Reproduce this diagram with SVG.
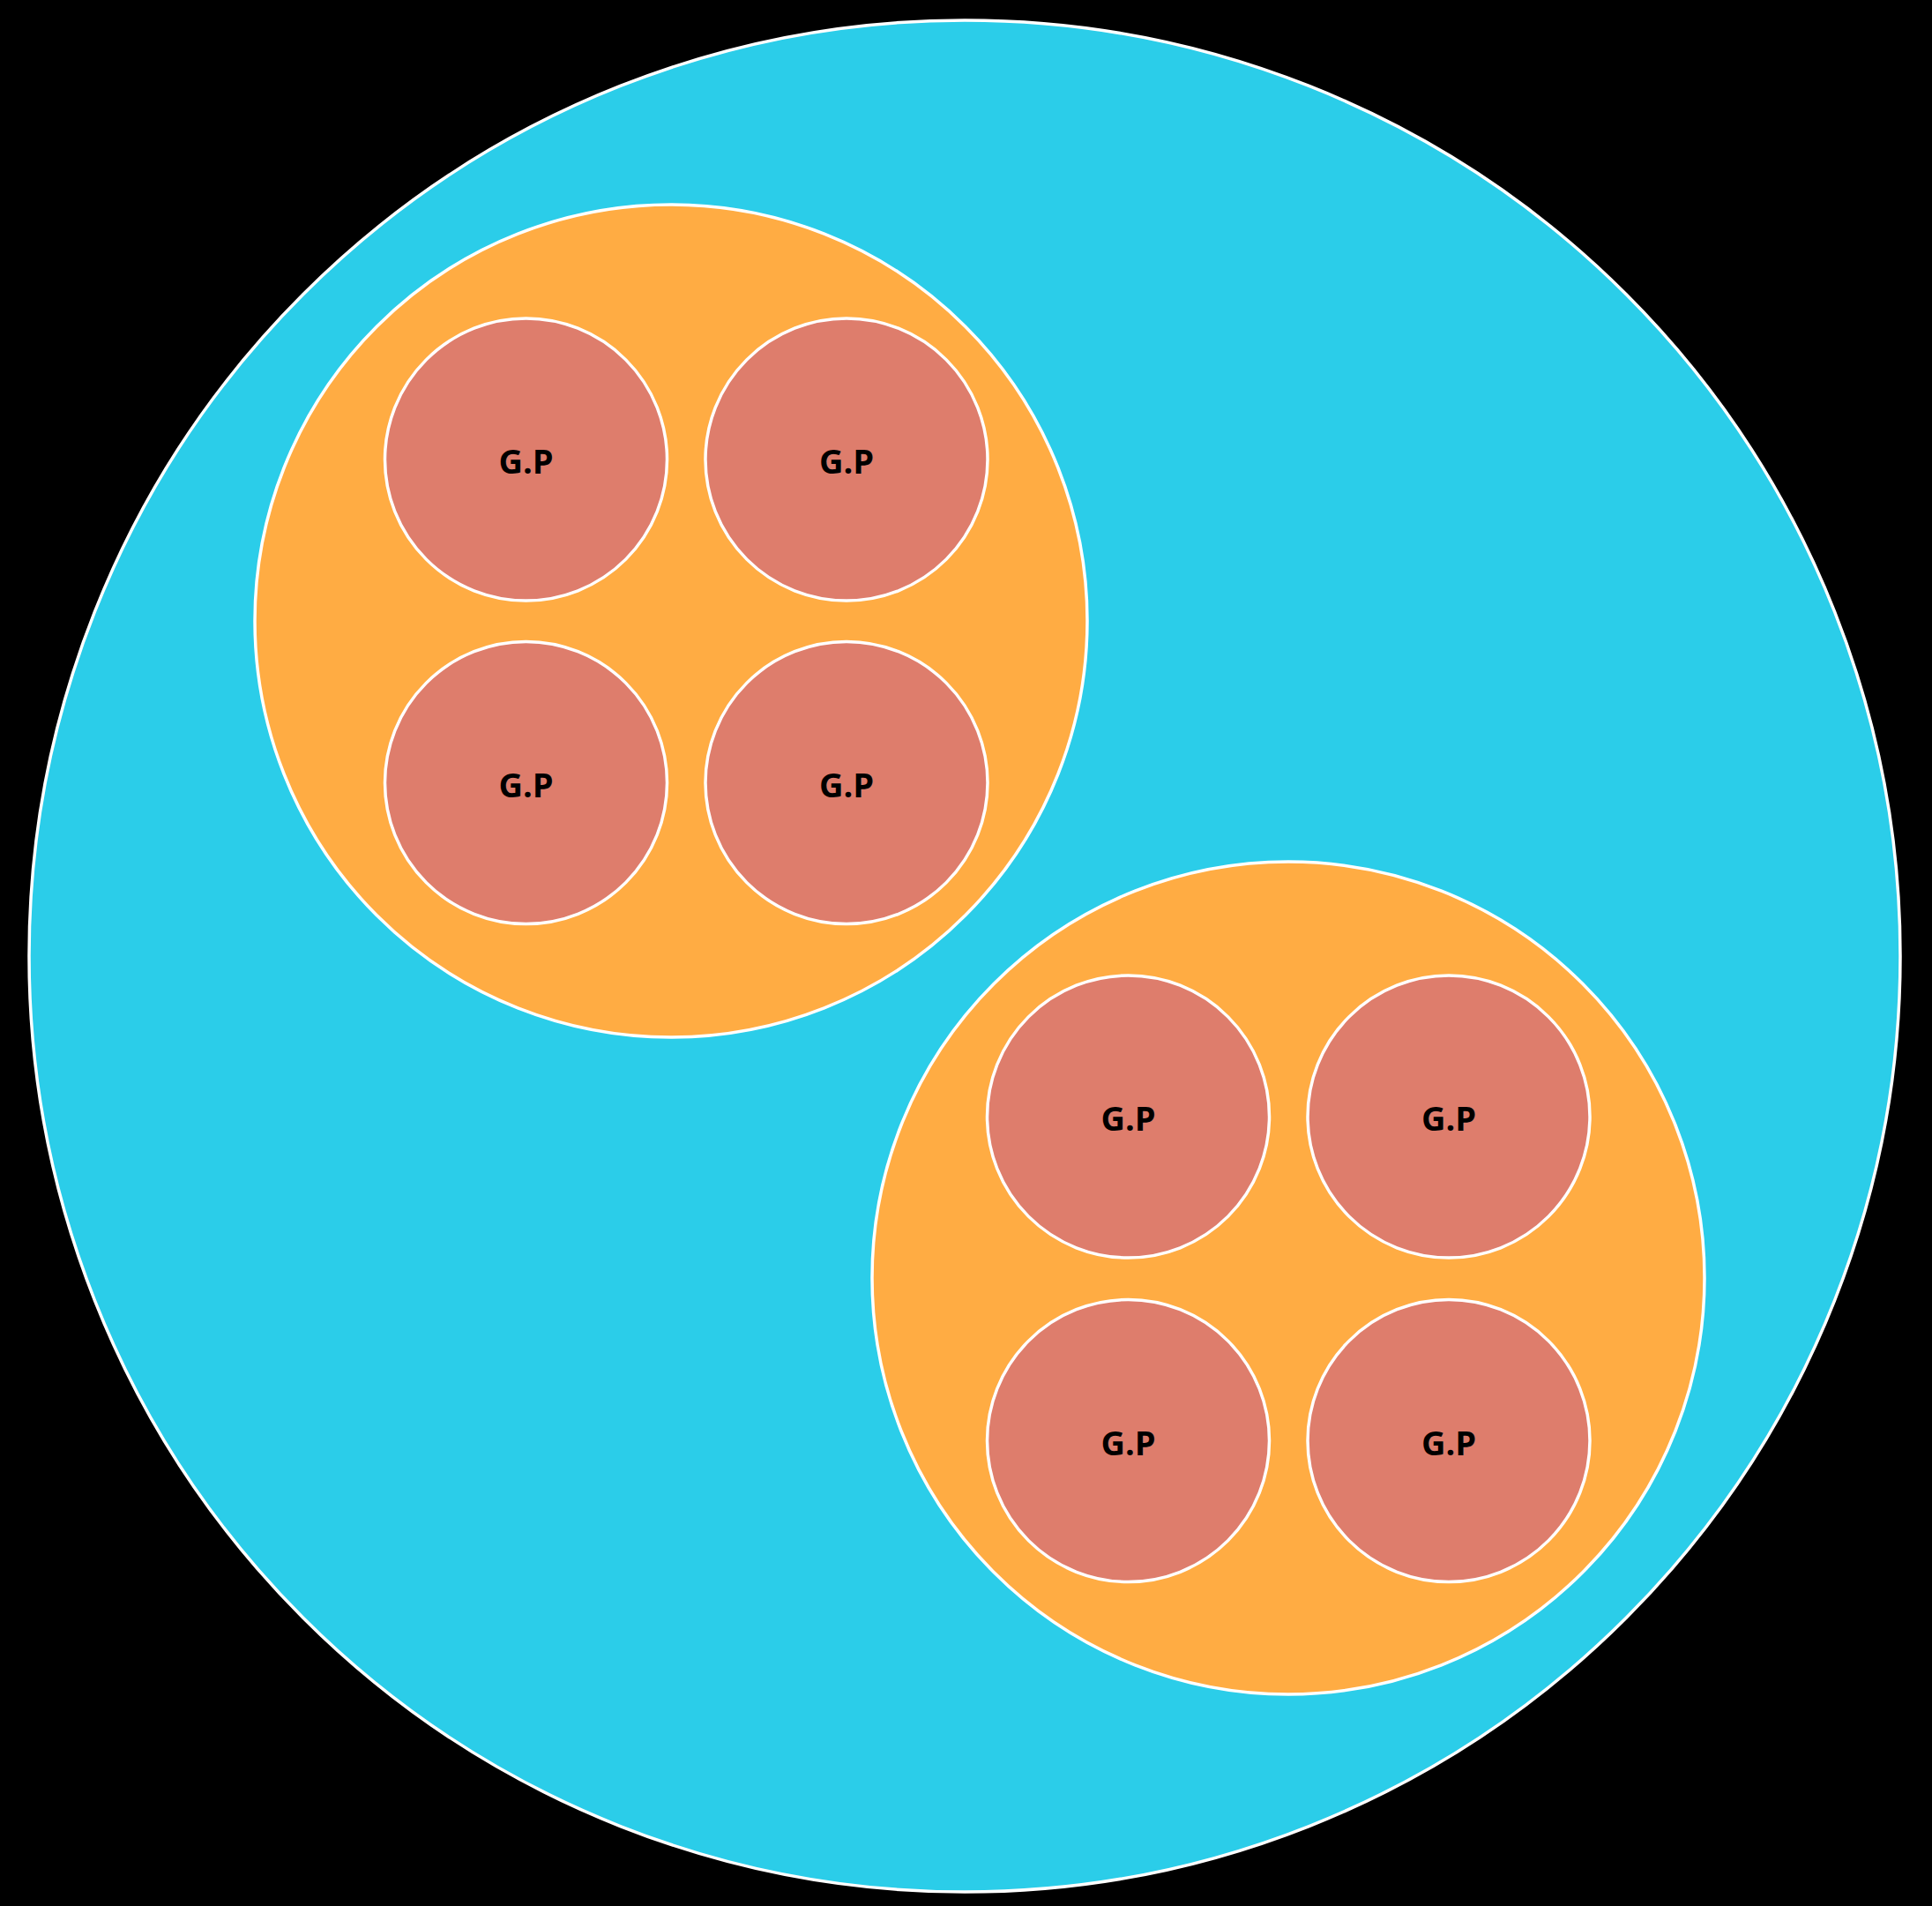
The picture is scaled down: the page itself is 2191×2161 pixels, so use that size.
<svg xmlns="http://www.w3.org/2000/svg" width="2191" height="2161" viewBox="0 0 2191 2161">
<style>
.root{fill:#2BCDE9;stroke:#fff;stroke-width:3.5}
.grp{fill:#FFAC43;stroke:#fff;stroke-width:3.5}
.leaf{fill:#DE7D6C;stroke:#fff;stroke-width:3.5}
.lbl{font-family:"Open Sans","Noto Sans","Liberation Sans",sans-serif;font-weight:bold;font-size:38px;fill:#000;text-anchor:middle}
</style>
<rect width="2191" height="2161" fill="#000"/>
<g id="root"><circle class="root" cx="1094" cy="1084" r="1061"/></g>
<g id="group1"><circle class="grp" cx="761" cy="704" r="472"/></g>
<g id="group2"><circle class="grp" cx="1461" cy="1449" r="472"/></g>
<g id="gp1"><circle class="leaf" cx="596.5" cy="521" r="160"/><text class="lbl" x="596.5" y="537">G.P</text></g>
<g id="gp2"><circle class="leaf" cx="960" cy="521" r="160"/><text class="lbl" x="960" y="537">G.P</text></g>
<g id="gp3"><circle class="leaf" cx="596.5" cy="887.5" r="160"/><text class="lbl" x="596.5" y="903.5">G.P</text></g>
<g id="gp4"><circle class="leaf" cx="960" cy="887.5" r="160"/><text class="lbl" x="960" y="903.5">G.P</text></g>
<g id="gp5"><circle class="leaf" cx="1279.5" cy="1266" r="160"/><text class="lbl" x="1279.5" y="1282">G.P</text></g>
<g id="gp6"><circle class="leaf" cx="1643" cy="1266" r="160"/><text class="lbl" x="1643" y="1282">G.P</text></g>
<g id="gp7"><circle class="leaf" cx="1279.5" cy="1633.5" r="160"/><text class="lbl" x="1279.5" y="1649.5">G.P</text></g>
<g id="gp8"><circle class="leaf" cx="1643" cy="1633.5" r="160"/><text class="lbl" x="1643" y="1649.5">G.P</text></g>
<g id="connectors"></g>
</svg>
